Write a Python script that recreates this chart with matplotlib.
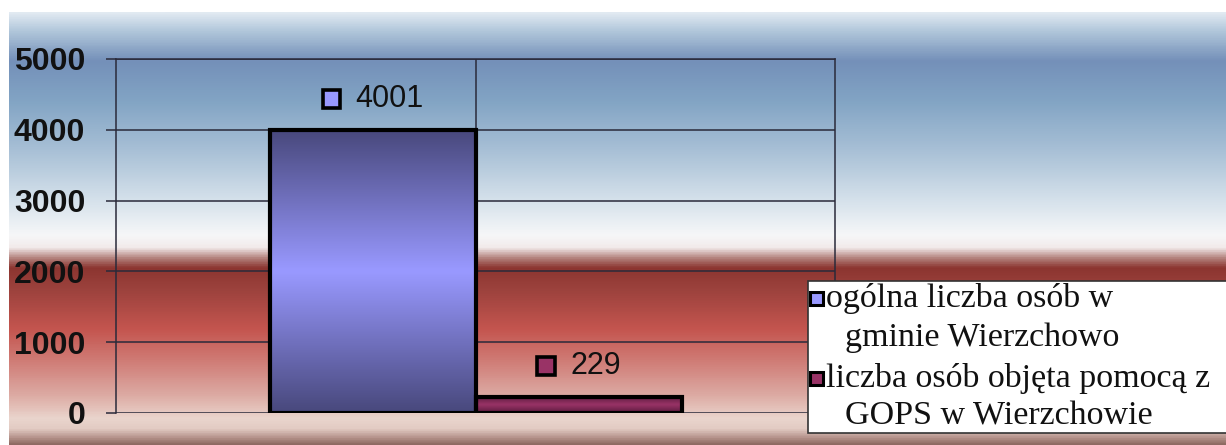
import numpy as np
import matplotlib
matplotlib.use('Agg')
import matplotlib.pyplot as plt
from matplotlib.colors import LinearSegmentedColormap
from matplotlib.patches import Rectangle
from matplotlib.offsetbox import AnnotationBbox, HPacker, TextArea, DrawingArea

# dane
series_names = ['ogólna liczba osób w gminie Wierzchowo',
                'liczba osób objęta pomocą z GOPS w Wierzchowie']
legend_lines = [['ogólna liczba osób w', 'gminie Wierzchowo'],
                ['liczba osób objęta pomocą z', 'GOPS w Wierzchowie']]
values = [4001, 229]
y_ticks = [0, 1000, 2000, 3000, 4000, 5000]

colors = ['#9999ff', '#993366']
dark_colors = ['#48487c', '#5a1a3e']

W, H = 1226, 445
fig = plt.figure(figsize=(W / 100, H / 100), dpi=100)
fig.patch.set_facecolor('white')

# tlo z gradientem
bg_stops = [
    (0.000, '#e2eaf2'), (0.042, '#b0c6da'), (0.111, '#7490b9'),
    (0.203, '#82a4c4'), (0.319, '#a8c0d6'), (0.434, '#d5e1eb'),
    (0.515, '#f6f7f8'), (0.545, '#f2eaea'), (0.568, '#b58580'),
    (0.591, '#8c3530'), (0.642, '#9c423d'), (0.734, '#c4554f'),
    (0.804, '#cf7a74'), (0.885, '#dca9a2'), (0.942, '#ead5cd'),
    (0.965, '#e2cbc3'), (0.984, '#b8958e'), (1.000, '#8e6a62'),
]
bg_cmap = LinearSegmentedColormap.from_list('bg', bg_stops)
bg_ax = fig.add_axes([9 / W, 0, 1 - 9 / W, (H - 12) / H])
bg_ax.imshow(np.linspace(0, 1, 500).reshape(-1, 1), aspect='auto',
             cmap=bg_cmap, extent=[0, 1, 0, 1], origin='upper')
bg_ax.set_axis_off()

# wykres
left, right, top, bottom = 116, 835, 59, 413
ax = fig.add_axes([left / W, (H - bottom) / H, (right - left) / W, (bottom - top) / H])
ax.set_facecolor('none')
ax.set_xlim(-0.5, 0.5)
ax.set_ylim(0, 5000)

width = 206 / (right - left)
xs = [-width / 2, width / 2]

for y in y_ticks:
    ax.axhline(y, color='#2a2a3a', lw=1.1, zorder=1)
ax.axvline(0, color='#2a2a3a', lw=1.1, zorder=1)

for x, v, c, dc in zip(xs, values, colors, dark_colors):
    bar = ax.bar(x, v, width=width, color='none', edgecolor='black', lw=3, zorder=4)[0]
    grad = 1 - np.abs(np.linspace(-1, 1, 200)).reshape(-1, 1)
    im = ax.imshow(grad, aspect='auto', cmap=LinearSegmentedColormap.from_list('b2', [dc, c]),
                   extent=[x - width / 2, x + width / 2, 0, v], zorder=3,
                   interpolation='bicubic')
    im.set_clip_path(bar)

    # etykieta danych
    da = DrawingArea(15, 15, 0, 0)
    da.add_artist(Rectangle((1.2, 1.2), 12.6, 12.6, fc=c, ec='black', lw=2.6))
    ta = TextArea(str(v), textprops=dict(fontsize=22, family='Liberation Sans', color='#111111'))
    box = HPacker(children=[da, ta], sep=10, align='center', pad=0)
    ab = AnnotationBbox(box, (x, v), xybox=(0, 22), xycoords='data',
                        boxcoords='offset points', frameon=False,
                        box_alignment=(0.5, 0.5), zorder=6)
    ax.add_artist(ab)

ax.set_xlim(-0.5, 0.5)
ax.set_ylim(0, 5000)
ax.set_xticks([])
ax.set_yticks(y_ticks)
ax.set_yticklabels([str(t) for t in y_ticks], fontsize=23, fontweight='bold',
                   family='Liberation Sans', color='#111111')
ax.tick_params(axis='y', length=7.2, width=1.1, color='#2a2a3a', pad=15)
for s in ['left', 'right', 'top']:
    ax.spines[s].set_color('#2a2a3a')
    ax.spines[s].set_linewidth(1.1)
ax.spines['bottom'].set_visible(False)

# legenda
lx0, ly0, ly1 = 808, 281, 433
fig.patches.append(Rectangle((lx0 / W, (H - ly1) / H), (W + 10 - lx0) / W, (ly1 - ly0) / H,
                             transform=fig.transFigure, fc='white', ec='#333333', lw=1.2, zorder=10))
line_y = [298, 338, 378, 416]
k = 0
for i, lines in enumerate(legend_lines):
    for j, txt in enumerate(lines):
        x_txt = 826 if j == 0 else 845
        fig.text(x_txt / W, (H - line_y[k]) / H, txt, fontsize=24.5, family='Liberation Serif',
                 va='center', ha='left', color='#111111', zorder=11)
        if j == 0:
            fig.patches.append(Rectangle((810 / W, (H - line_y[k] - 7) / H), 13 / W, 13 / H,
                                         transform=fig.transFigure, fc=colors[i], ec='black',
                                         lw=2.2, zorder=11))
        k += 1

fig.savefig('out.png', dpi=100)
